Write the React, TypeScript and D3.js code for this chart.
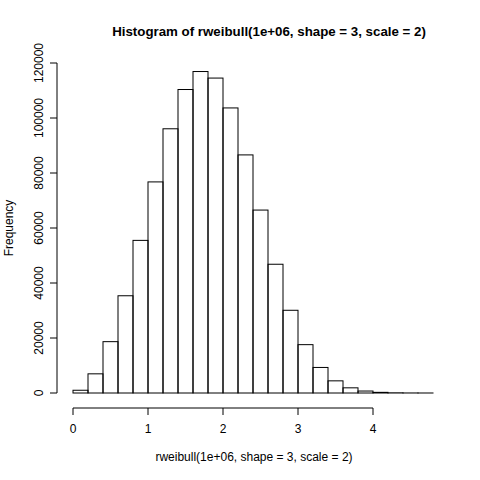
import React from "react";
import * as d3 from "d3";

const breaks = [0,0.2,0.4,0.6,0.8,1,1.2,1.4,1.6,1.8,2,2.2,2.4,2.6,2.8,3,3.2,3.4,3.6,3.8,4,4.2,4.4,4.6,4.8];
const counts = [999,6970,18670,35360,55500,76760,96080,110360,116900,114520,103660,86580,66520,46820,30080,17580,9290,4420,1880,715,240,71,18,4];
const xTicks = [0,1,2,3,4];
const yTicks = [0,20000,40000,60000,80000,100000,120000];

export default function App() {
  const x = d3.scaleLinear().domain([0, 4]).range([73, 373]);
  const y = d3.scaleLinear().domain([0, 120000]).range([393, 63]);
  const font = "Liberation Sans, Arial, sans-serif";
  return (
    <svg width={480} height={480} style={{ position: "absolute", left: 0, top: 0, background: "#fff" }} fontFamily={font}>
      <rect width={480} height={480} fill="#fff" />
      {counts.map((c, i) => (
        <rect key={i} x={x(breaks[i])} y={y(c)} width={x(breaks[i + 1]) - x(breaks[i])} height={y(0) - y(c)} fill="none" stroke="#000" strokeWidth={1} />
      ))}
      <line x1={x(0)} x2={x(4)} y1={408} y2={408} stroke="#000" />
      {xTicks.map(t => (
        <g key={t}>
          <line x1={x(t)} x2={x(t)} y1={408} y2={415} stroke="#000" />
          <text x={x(t)} y={433} fontSize={12} textAnchor="middle">{t}</text>
        </g>
      ))}
      <line x1={57} x2={57} y1={y(0)} y2={y(120000)} stroke="#000" />
      {yTicks.map(t => (
        <g key={t}>
          <line x1={50} x2={57} y1={y(t)} y2={y(t)} stroke="#000" />
          <text transform={`translate(43,${y(t)}) rotate(-90)`} fontSize={12} textAnchor="middle">{t}</text>
        </g>
      ))}
      <text x={269} y={36} fontSize={13.3} fontWeight="bold" textAnchor="middle">Histogram of rweibull(1e+06, shape = 3, scale = 2)</text>
      <text x={254} y={461} fontSize={12} textAnchor="middle">rweibull(1e+06, shape = 3, scale = 2)</text>
      <text transform="translate(13,228) rotate(-90)" fontSize={12} textAnchor="middle">Frequency</text>
    </svg>
  );
}
